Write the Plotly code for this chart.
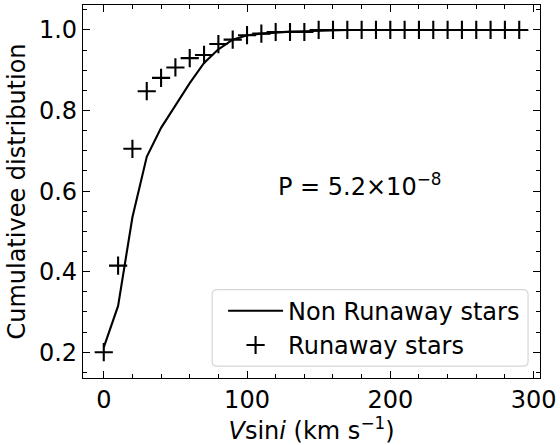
import plotly.graph_objects as go

# Data
vsini_runaway = [0, 10, 20, 30, 40, 50, 60, 70, 80, 90, 100, 110, 120, 130, 140,
                 150, 160, 170, 180, 190, 200, 210, 220, 230, 240, 250, 260, 270, 280, 290]
cdf_runaway = [0.20, 0.415, 0.705, 0.848, 0.881, 0.907, 0.930, 0.938, 0.965, 0.976,
               0.987, 0.991, 0.995, 0.995, 0.995, 1.0, 1.0, 1.0, 1.0, 1.0,
               1.0, 1.0, 1.0, 1.0, 1.0, 1.0, 1.0, 1.0, 1.0, 1.0]
vsini_nonrunaway = [0, 10, 20, 30, 40, 50, 60, 70, 80, 90, 100, 110, 120, 130, 140,
                    150, 160, 170, 180, 190, 200, 210, 220, 230, 240, 250, 260, 270, 280, 290]
cdf_nonrunaway = [0.212, 0.315, 0.535, 0.685, 0.757, 0.812, 0.868, 0.918, 0.952, 0.976,
                  0.987, 0.991, 0.994, 0.996, 0.997, 0.998, 1.0, 1.0, 1.0, 1.0,
                  1.0, 1.0, 1.0, 1.0, 1.0, 1.0, 1.0, 1.0, 1.0, 1.0]
x_ticks = [0, 100, 200, 300]
y_ticks = [0.2, 0.4, 0.6, 0.8, 1.0]
p_text = "P = 5.2×10<sup>−8</sup>"

FONT = "DejaVu Sans"
FS = 24

W, H = 560, 445
ML, MR, MT, MB = 83, 17, 4, 65
PW, PH = W - ML - MR, H - MT - MB

def px_x(p):
    return (p - ML) / PW

def px_y(p):
    return (H - MB - p) / PH

fig = go.Figure()
fig.add_trace(go.Scatter(
    x=vsini_nonrunaway, y=cdf_nonrunaway, mode="lines",
    line=dict(color="black", width=2.1), name="Non Runaway stars"))
fig.add_trace(go.Scatter(
    x=vsini_runaway, y=cdf_runaway, mode="markers",
    marker=dict(symbol="cross-thin", size=13, color="black",
                line=dict(color="black", width=2.1)),
    name="Runaway stars"))

axis_common = dict(
    showline=True, linecolor="black", linewidth=1.3, mirror="allticks",
    ticks="inside", ticklen=7, tickwidth=1.3, tickcolor="black",
    showgrid=False, zeroline=False,
    tickfont=dict(family=FONT, size=FS, color="black"),
)

fig.update_xaxes(
    range=[-14.5, 304.5], tickvals=x_ticks, ticktext=[str(v) for v in x_ticks],
    minor=dict(dtick=20, tick0=0, ticks="inside", ticklen=4, tickwidth=1, tickcolor="black"),
    title=dict(text="<i>V</i>sin<i>i</i> (km s<sup>−1</sup>)",
               font=dict(family=FONT, size=FS, color="black"), standoff=10),
    **axis_common)
fig.update_yaxes(
    range=[0.136, 1.062], tickvals=y_ticks, ticktext=[f"{v:.1f}" for v in y_ticks],
    minor=dict(dtick=0.05, tick0=0, ticks="inside", ticklen=4, tickwidth=1, tickcolor="black"),
    title=dict(text="Cumulativee distribution",
               font=dict(family=FONT, size=FS, color="black"), standoff=6),
    **axis_common)

fig.add_annotation(x=120, y=0.616, xref="x", yref="y", text=p_text, showarrow=False,
                   xanchor="left", yanchor="middle",
                   font=dict(family=FONT, size=FS, color="black"))

# rounded legend frame
x0, x1 = px_x(213), px_x(531)
y0, y1 = px_y(368), px_y(291)
rx, ry = 5 / PW, 5 / PH
path = (f"M{x0+rx},{y0} L{x1-rx},{y0} Q{x1},{y0} {x1},{y0+ry} "
        f"L{x1},{y1-ry} Q{x1},{y1} {x1-rx},{y1} "
        f"L{x0+rx},{y1} Q{x0},{y1} {x0},{y1-ry} "
        f"L{x0},{y0+ry} Q{x0},{y0} {x0+rx},{y0} Z")
fig.add_shape(type="path", path=path, xref="paper", yref="paper",
              line=dict(color="#d6d6d6", width=1.2), fillcolor="white", layer="above")

fig.update_layout(
    width=W, height=H,
    margin=dict(l=ML, r=MR, t=MT, b=MB),
    paper_bgcolor="white", plot_bgcolor="white",
    font=dict(family=FONT, size=FS, color="black"),
    legend=dict(x=px_x(224), y=px_y(290), xanchor="left", yanchor="top",
                bgcolor="rgba(0,0,0,0)", borderwidth=0,
                font=dict(family=FONT, size=FS, color="black"),
                itemwidth=55, tracegroupgap=0),
    showlegend=True,
)

fig.write_html("out.html")
